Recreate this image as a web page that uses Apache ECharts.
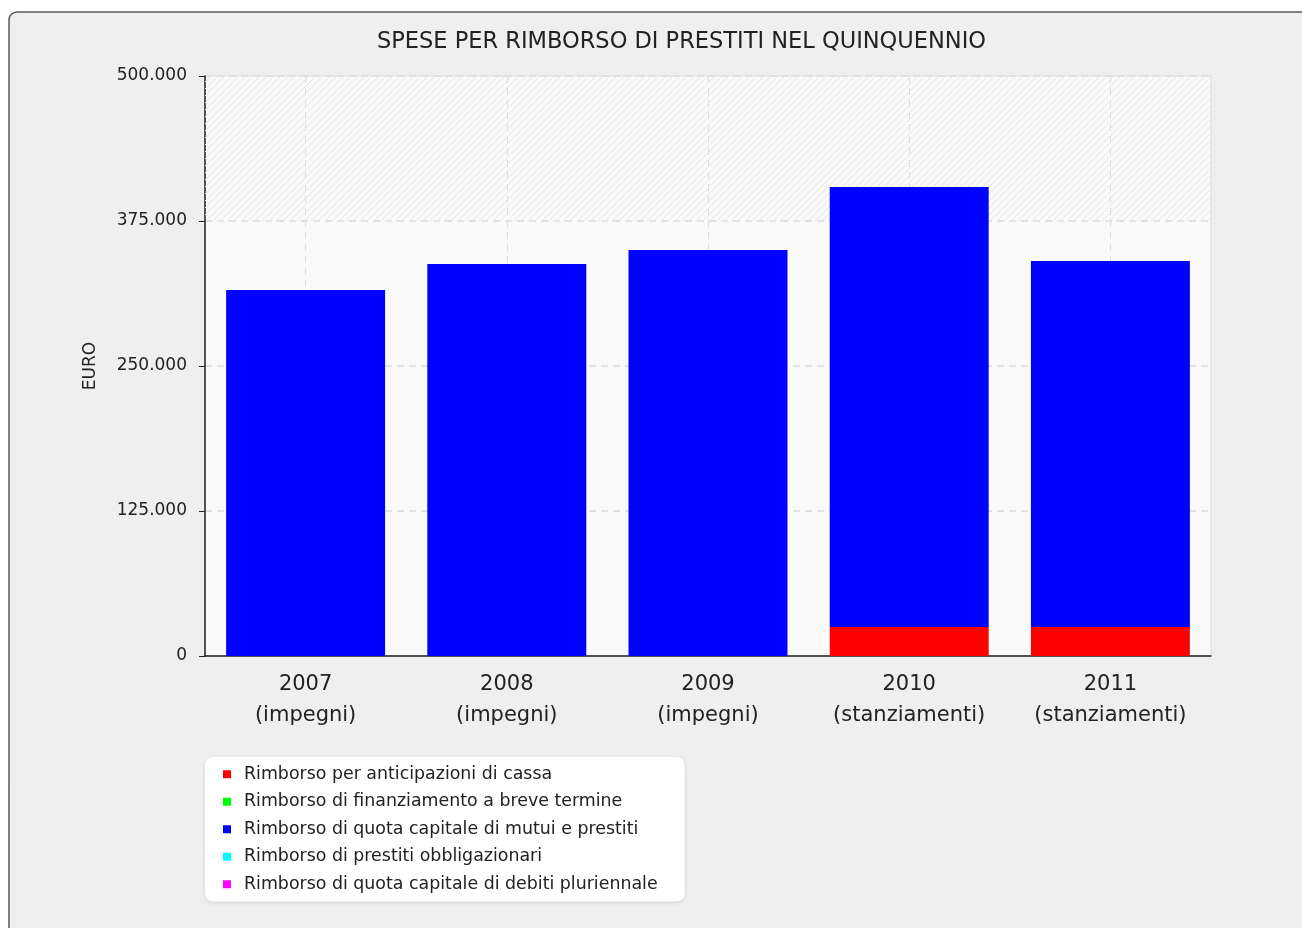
<!DOCTYPE html>
<html>
<head>
<meta charset="utf-8">
<script src="https://cdn.jsdelivr.net/npm/echarts@6/dist/echarts.min.js"></script>
<style>
  html, body { margin: 0; padding: 0; background: #ffffff; }
  #chart { width: 1302px; height: 928px; }
</style>
</head>
<body>
<div id="chart"></div>
<script>
  // dati
  var anni = ['2007\n(impegni)', '2008\n(impegni)', '2009\n(impegni)', '2010\n(stanziamenti)', '2011\n(stanziamenti)'];
  var anticipazioniCassa = [0, 0, 0, 25000, 25000];
  var finanziamentoBreve = [0, 0, 0, 0, 0];
  var mutuiPrestiti = [315500, 338000, 350000, 379300, 315500];
  var prestitiObbligazionari = [0, 0, 0, 0, 0];
  var debitiPluriennali = [0, 0, 0, 0, 0];
  var nomiSerie = [
    'Rimborso per anticipazioni di cassa',
    'Rimborso di finanziamento a breve termine',
    'Rimborso di quota capitale di mutui e prestiti',
    'Rimborso di prestiti obbligazionari',
    'Rimborso di quota capitale di debiti pluriennale'
  ];
  var colori = ['#ff0000', '#00ff00', '#0000ff', '#00ffff', '#ff00ff'];
  var zonaTratteggiata = [375000, 500000];

  function formatEuro(v) {
    return String(v).replace(/\B(?=(\d{3})+(?!\d))/g, '.');
  }

  // tratteggio diagonale per la parte alta
  var pat = document.createElement('canvas');
  pat.width = 7; pat.height = 7;
  var ctx = pat.getContext('2d');
  ctx.strokeStyle = '#e6e6e6';
  ctx.lineWidth = 1;
  ctx.beginPath();
  ctx.moveTo(-1, 8); ctx.lineTo(8, -1);
  ctx.moveTo(-1, 1); ctx.lineTo(1, -1);
  ctx.moveTo(6, 8); ctx.lineTo(8, 6);
  ctx.stroke();

  var myChart = echarts.init(document.getElementById('chart'));
  var valori = [anticipazioniCassa, finanziamentoBreve, mutuiPrestiti, prestitiObbligazionari, debitiPluriennali];
  var serie = [];
  for (var i = 0; i < valori.length; i++) {
    serie.push({
      name: nomiSerie[i],
      type: 'bar',
      stack: 'totale',
      barWidth: '79%',
      itemStyle: { color: colori[i] },
      data: valori[i]
    });
  }
  // serie vuota solo per la zona tratteggiata
  serie.push({
    type: 'line',
    name: 'sfondo',
    z: 1,
    data: [],
    silent: true,
    markArea: {
      silent: true,
      itemStyle: { color: { image: pat, repeat: 'repeat' } },
      data: [[{ yAxis: zonaTratteggiata[0] }, { yAxis: zonaTratteggiata[1] }]]
    }
  });

  myChart.setOption({
    animation: false,
    textStyle: { fontFamily: 'DejaVu Sans' },
    graphic: [{
      type: 'rect',
      z: -10,
      shape: { x: 9, y: 12, width: 1320, height: 940, r: 8 },
      style: { fill: '#efefef', stroke: '#5a5a5a', lineWidth: 1.5 }
    }],
    title: {
      text: 'SPESE PER RIMBORSO DI PRESTITI NEL QUINQUENNIO',
      left: 372,
      top: 26,
      textStyle: { fontSize: 22.5, fontWeight: 'normal', color: '#222' }
    },
    legend: {
      data: nomiSerie,
      orient: 'vertical',
      left: 205,
      top: 757,
      padding: [8, 27, 8, 18],
      backgroundColor: '#ffffff',
      borderRadius: 8,
      shadowBlur: 4,
      shadowColor: 'rgba(0,0,0,0.12)',
      shadowOffsetY: 1,
      itemWidth: 8,
      itemHeight: 8,
      itemGap: 9,
      icon: 'rect',
      textStyle: { fontSize: 17.4, lineHeight: 18.5, color: '#222', padding: [0, 0, 0, 8] }
    },
    grid: {
      left: 205,
      right: 91,
      top: 76,
      bottom: 272,
      show: true,
      backgroundColor: '#fafafa',
      borderColor: '#dcdcdc',
      borderWidth: 1
    },
    xAxis: {
      type: 'category',
      data: anni,
      axisLine: { lineStyle: { color: '#222', width: 1.5 } },
      axisTick: { interval: 0, alignWithLabel: true, length: 8, lineStyle: { color: '#222' } },
      axisLabel: { interval: 0, fontSize: 21, lineHeight: 31, color: '#222', margin: 13 },
      splitLine: { show: true, interval: 0, alignWithLabel: true, lineStyle: { color: '#dddddd', type: [7, 5] } }
    },
    yAxis: {
      type: 'value',
      min: 0,
      max: 500000,
      interval: 125000,
      name: 'EURO',
      nameLocation: 'middle',
      nameGap: 106,
      nameTextStyle: { fontSize: 17, color: '#222' },
      axisLine: { show: true, lineStyle: { color: '#222', width: 1.5 } },
      axisTick: { show: true, length: 6, lineStyle: { color: '#222' } },
      axisLabel: { fontSize: 17, color: '#222', margin: 18, formatter: formatEuro },
      splitLine: { lineStyle: { color: '#dddddd', type: [7, 5], width: 1.5 } }
    },
    series: serie
  });
</script>
</body>
</html>
